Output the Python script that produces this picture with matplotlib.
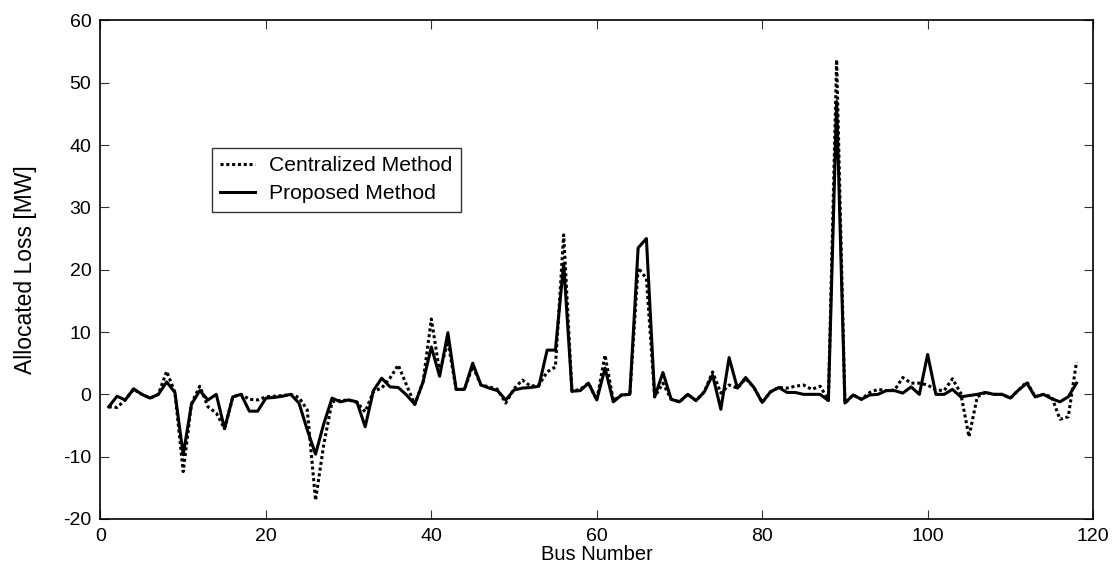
import matplotlib
matplotlib.use("Agg")
import matplotlib.pyplot as plt
import numpy as np

plt.rcParams['font.family'] = ['Liberation Sans', 'DejaVu Sans']
plt.rcParams['axes.unicode_minus'] = False

bus = list(range(1, 119))

centralized = [
    -2.0, -2.1, -0.9, 0.8, 0.0, -0.6, 0.0, 3.7, 0.3, -12.4,
    -1.5, 1.3, -2.0, -3.0, -5.5, -0.4, 0.0, -0.8, -0.9, -0.4,
    -0.3, -0.2, 0.0, -0.5, -2.5, -17.0, -8.0, -1.2, -1.0, -0.9,
    -1.3, -2.8, 0.5, 1.0, 2.6, 4.7, 1.5, -1.6, 2.0, 12.1,
    3.6, 8.5, 0.8, 0.8, 4.5, 1.5, 1.2, 0.8, -1.4, 0.9,
    2.3, 1.3, 1.5, 3.6, 4.4, 25.6, 0.5, 0.8, 1.8, -0.9,
    6.3, -1.0, -0.1, 0.0, 20.3, 18.6, -0.4, 1.8, -0.8, -1.2,
    0.0, -1.0, 0.4, 3.6, 0.2, 1.5, 1.0, 2.5, 1.1, -1.3,
    0.4, 1.1, 1.0, 1.3, 1.5, 0.8, 1.3, -0.9, 53.7, -1.4,
    -0.1, -0.8, 0.3, 0.8, 0.6, 0.7, 2.7, 1.8, 1.8, 1.5,
    0.7, 0.6, 2.5, 0.2, -6.8, -0.4, 0.3, 0.0, 0.0, -0.6,
    0.7, 2.0, -0.4, 0.0, -0.4, -4.0, -3.6, 5.2,
]

proposed = [
    -2.0, -0.3, -0.9, 0.9, 0.0, -0.6, 0.0, 2.0, 0.3, -9.7,
    -1.6, 0.6, -0.9, 0.0, -5.5, -0.4, 0.0, -2.7, -2.7, -0.6,
    -0.5, -0.3, 0.0, -1.4, -5.7, -9.6, -4.7, -0.6, -1.2, -0.9,
    -1.2, -5.2, 0.6, 2.6, 1.2, 1.1, -0.1, -1.6, 2.0, 7.6,
    2.9, 9.9, 0.8, 0.8, 5.0, 1.5, 1.0, 0.6, -0.9, 0.7,
    1.0, 1.1, 1.3, 7.1, 7.1, 21.0, 0.5, 0.6, 1.8, -0.9,
    4.2, -1.2, -0.1, 0.0, 23.5, 25.0, -0.4, 3.5, -0.8, -1.2,
    0.0, -1.0, 0.4, 3.1, -2.4, 5.9, 1.0, 2.7, 1.1, -1.3,
    0.4, 1.1, 0.3, 0.3, 0.0, 0.0, 0.0, -1.0, 47.0, -1.4,
    -0.1, -0.8, -0.1, 0.0, 0.6, 0.6, 0.2, 1.2, 0.0, 6.4,
    0.0, 0.0, 0.8, -0.4, -0.2, 0.0, 0.3, 0.0, 0.0, -0.6,
    0.7, 1.8, -0.4, 0.0, -0.7, -1.2, -0.4, 1.8,
]

xticks = [0, 20, 40, 60, 80, 100, 120]
yticks = [-20, -10, 0, 10, 20, 30, 40, 50, 60]

fig = plt.figure(figsize=(11.14, 5.72), dpi=100)
ax = fig.add_axes([0.0902, 0.0927, 0.8910, 0.8715])

ax.plot(bus, centralized, color='black', linewidth=2.2,
        linestyle=(0, (1, 0.9)), label='Centralized Method')
ax.plot(bus, proposed, color='black', linewidth=2.2,
        linestyle='-', label='Proposed Method')

ax.set_xlim(0, 120)
ax.set_ylim(-20, 60)
ax.set_xticks(xticks)
ax.set_yticks(yticks)
ax.tick_params(direction='in', length=6.5, width=0.8, top=True, right=True,
               labelsize=14, pad=6.5, color='#333333')
for s in ax.spines.values():
    s.set_linewidth(1.2)
    s.set_color('black')

ax.set_xlabel('Bus Number', fontsize=14.5, labelpad=0)
ax.set_ylabel('Allocated Loss [MW]', fontsize=16.5, labelpad=19)

leg = ax.legend(loc='upper left', bbox_to_anchor=(0.1123, 0.7442),
                borderaxespad=0, fontsize=15.2, handlelength=1.65,
                handletextpad=0.65, labelspacing=0.42, borderpad=0.4,
                fancybox=False, frameon=True, edgecolor='black')
leg.get_frame().set_linewidth(1.0)

fig.savefig('out.png', dpi=100)
